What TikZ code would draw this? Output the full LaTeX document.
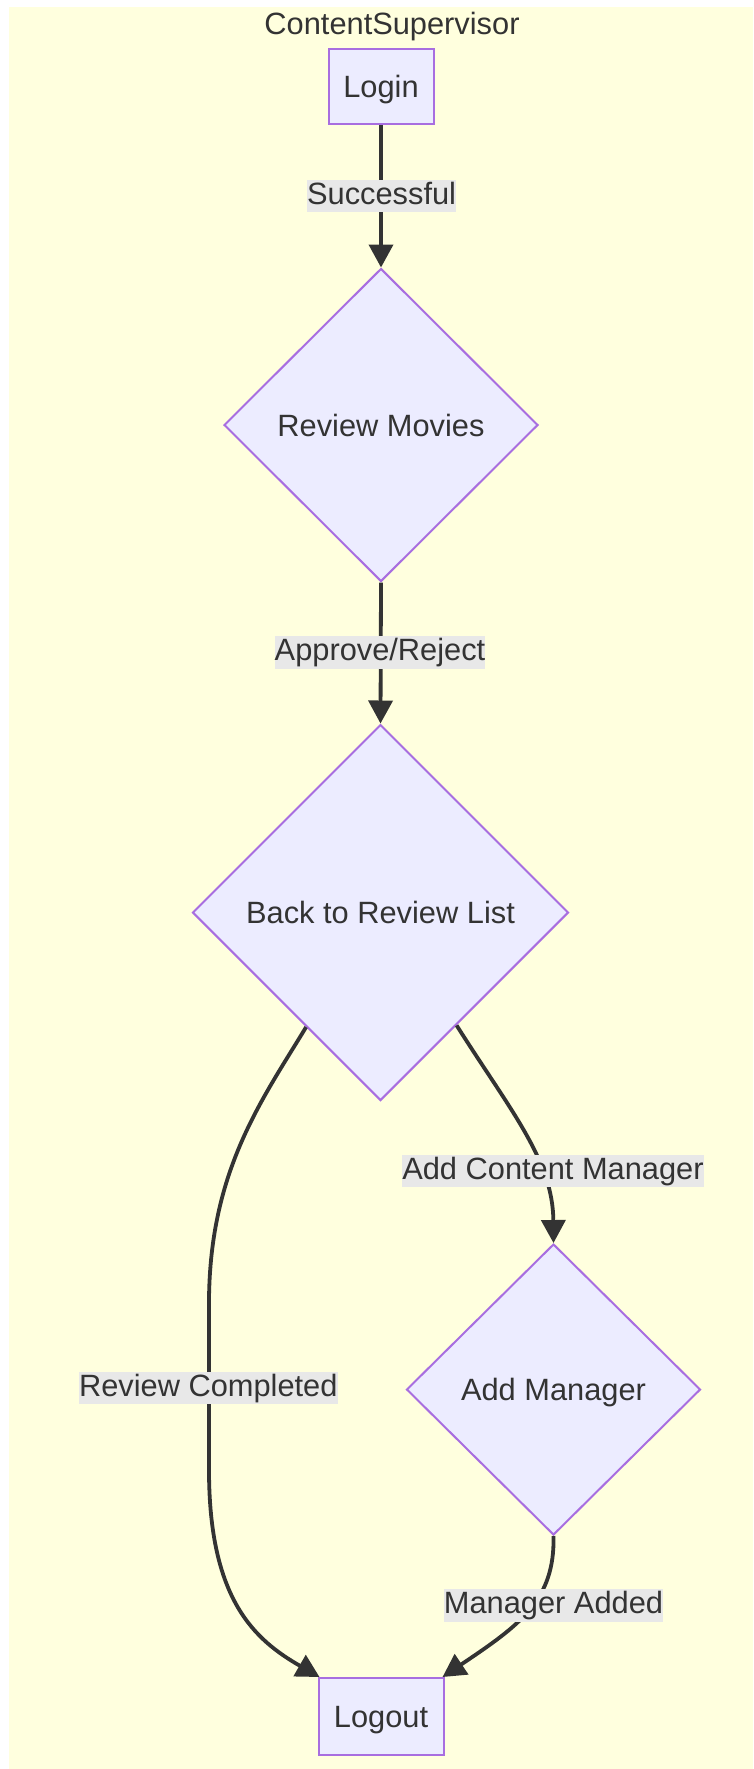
\documentclass[tikz,border=0pt]{standalone}
\usepackage{fontspec}
\setmainfont{Liberation Sans}
\usetikzlibrary{shapes.geometric,arrows.meta}
\definecolor{clusterbg}{HTML}{FFFFDE}
\definecolor{nodefill}{HTML}{ECECFF}
\definecolor{nodeline}{HTML}{A86EE0}
\definecolor{ink}{HTML}{333333}
\definecolor{labelbg}{HTML}{E8E8E8}
\newcommand{\diagfont}{\fontsize{30.8pt}{36pt}\selectfont}
\tikzset{
  base/.style={text=ink, font=\diagfont, text height=22pt, text depth=0pt},
  stepbox/.style={base, draw=nodeline, line width=2pt, fill=nodefill, inner sep=0pt},
  choice/.style={base, diamond, shape aspect=1, draw=nodeline, line width=2pt, fill=nodefill, inner sep=0pt},
  lbl/.style={text=ink, font=\diagfont, fill=labelbg, inner xsep=0pt, inner ysep=1.85pt,
              text height=22.5pt, text depth=6.5pt},
  edge/.style={draw=ink, line width=3.8pt, -{Triangle[length=23pt,width=24pt]}}
}
\begin{document}
\begin{tikzpicture}[x=1pt, y=-1pt]
  \useasboundingbox (0,0) rectangle (753,1769);
  % cluster background
  \fill[clusterbg] (9,7) rectangle (753,1769);
  \node[base] (title) at (392,23.5) {ContentSupervisor};

  % steps and decisions
  \node[stepbox, minimum width=105pt, minimum height=75.7pt] (login) at (381,86.4) {Login};
  \node[choice, minimum width=314pt, minimum height=313pt] (rev) at (381,425) {Review Movies};
  \node[choice, minimum width=376pt, minimum height=376pt] (brl) at (380.5,912.5) {Back to Review List};
  \node[choice, minimum width=294pt, minimum height=291pt] (addm) at (553.5,1389.5) {Add Manager};
  \node[stepbox, minimum width=125pt, minimum height=77pt] (logout) at (381,1716.5) {Logout};

  % connectors
  \draw[edge] (login.south) -- (rev.north);
  \draw[edge] (rev.south) -- (brl.north);
  \draw[edge] (brl.237) .. controls (262,1100) and (210,1170) .. (209,1300)
              -- (209,1470) .. controls (209,1600) and (255,1640) .. ([xshift=2pt]logout.north west);
  \draw[edge] (brl.304) .. controls (510,1110) and (553,1160) .. (addm.north);
  \draw[edge] (addm.south) .. controls (555,1600) and (520,1625) .. ([xshift=-2pt]logout.north east);

  % connector labels
  \node[lbl] (l1) at (381.6,196) {Successful};
  \node[lbl] (l2) at (380,652.3) {Approve/Reject};
  \node[lbl] (l3) at (553,1171) {Add Content Manager};
  \node[lbl] (l4) at (208.3,1388) {Review Completed};
  \node[lbl] (l5) at (553.5,1605.5) {Manager Added};
\end{tikzpicture}
\end{document}
